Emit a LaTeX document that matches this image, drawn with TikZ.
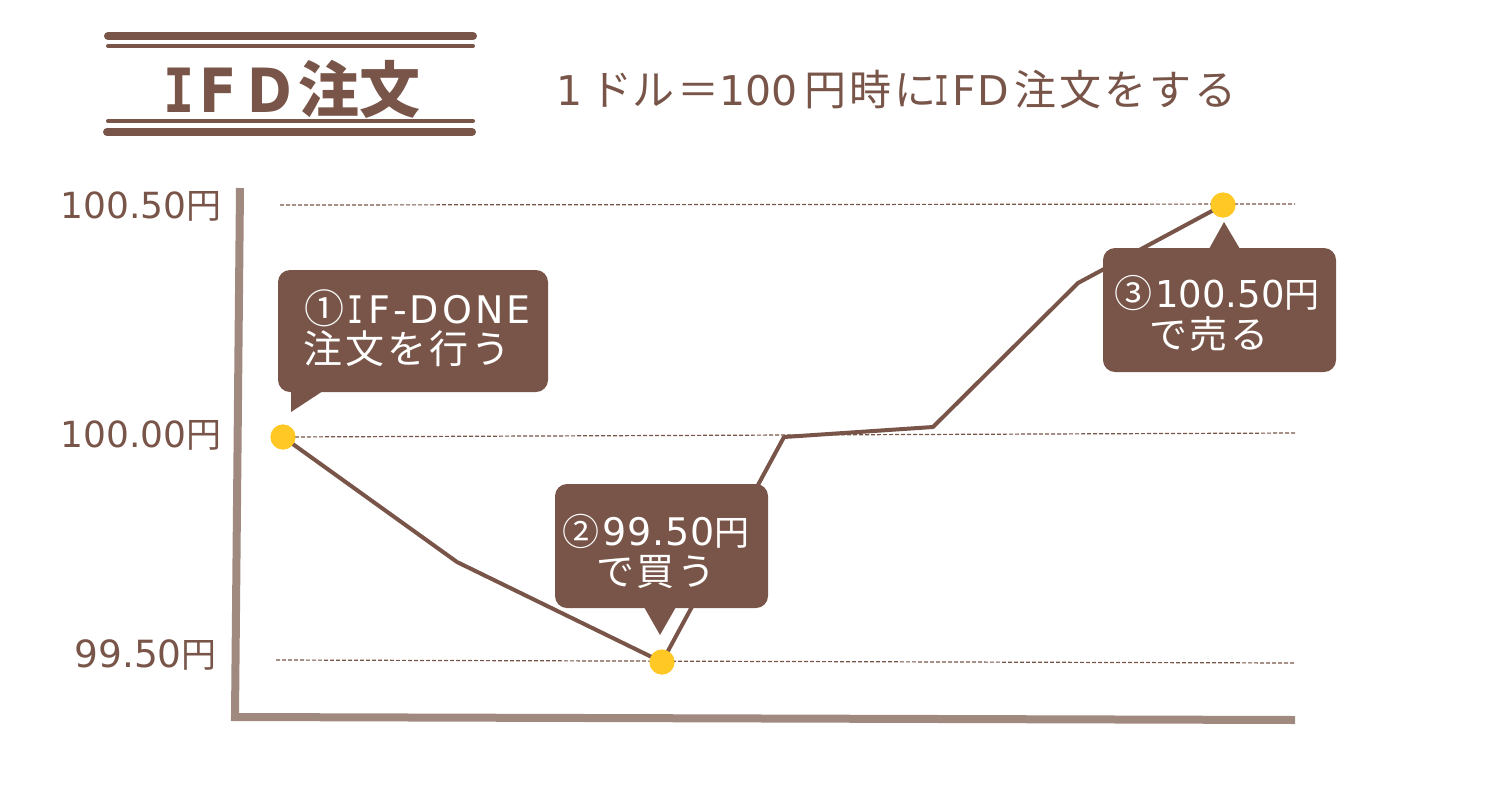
\documentclass[tikz,border=0pt]{standalone}
\usepackage{graphicx}
\usepackage{fontspec}
\setmainfont{DejaVu Sans}
\newfontfamily\jp{Noto Sans CJK JP}
\newfontfamily\jpsp[LetterSpace=7]{Noto Sans CJK JP}
\newfontfamily\jpwide[LetterSpace=6]{Noto Sans CJK JP}
\newfontfamily\jpwider[LetterSpace=8]{Noto Sans CJK JP}
\newfontfamily\lat{DejaVu Sans}
\newfontfamily\latsp[LetterSpace=8]{DejaVu Sans}
\newfontfamily\latti[LetterSpace=2]{DejaVu Sans}
\newfontfamily\monofam{DejaVu Sans Mono}
\newcommand{\serifI}[1]{\scalebox{#1}[1]{\monofam I}}
\definecolor{brn}{HTML}{785548}
\definecolor{axiscol}{HTML}{A08A80}
\definecolor{dotcol}{HTML}{FFC824}
\tikzset{
  rule thick/.style={draw=brn,line width=8pt,line cap=round},
  rule thin/.style={draw=brn,line width=4pt,line cap=round},
  grid dash/.style={draw=brn,line width=1.2pt,dash pattern=on 4pt off 2pt},
  price/.style={draw=brn,line width=4pt,line join=round},
  axisline/.style={draw=axiscol,line width=8pt,line join=miter},
  dot/.style={circle,fill=dotcol,minimum size=25pt,inner sep=0pt},
  bubble/.style={fill=brn,rounded corners=12pt},
  tailfill/.style={fill=brn},
  ylab/.style={text=brn,font=\lat\fontsize{36}{36}\selectfont,inner sep=0pt},
  calltext/.style={text=white,inner sep=0pt,font=\lat\fontsize{38}{38}\selectfont},
}
\begin{document}
\begin{tikzpicture}[x=1pt,y=-1pt]
\useasboundingbox (0,0) rectangle (1500,785);
% title rules
\draw[rule thick] (108,36) -- (473,36);
\draw[rule thin] (108,46) -- (473,46);
\draw[rule thin] (108,121) -- (473,121);
\draw[rule thick] (107,132) -- (472,132);
\node[text=brn,inner sep=0pt,anchor=west] (title) at (163,89)
  {\fontsize{61}{61}\selectfont\monofam\bfseries\scalebox{0.85}[1]{I}\hspace{5pt}\lat\bfseries\scalebox{0.9}[1]{F}\hspace{11pt}\scalebox{0.88}[1]{D}\hspace{6pt}\jp\bfseries 注文};
\node[text=brn,inner sep=0pt,anchor=west] (sub) at (556,90)
  {\lat\fontsize{41}{41}\selectfont 1\hspace{8pt}\jp\fontsize{42}{42}\selectfont ドル\hspace{3pt}＝\lat\fontsize{41}{41}\selectfont 100\hspace{7pt}\jpsp\fontsize{42}{42}\selectfont 円時に\lat\fontsize{41}{41}\selectfont\hspace{-1.5pt}\serifI{0.6}\hspace{3pt}F\hspace{1.5pt}D\hspace{5pt}\jpsp\fontsize{42}{42}\selectfont 注文をする};
% axis
\coordinate (axtop) at (240,188);
\coordinate (axo) at (235,717);
\coordinate (axr) at (1295,720);
\draw[axisline] (axtop) -- (axo) -- (axr);
% y labels
\node[ylab,anchor=east] (l1) at (222,206) {100.50\jp\fontsize{35}{35}\selectfont 円};
\node[ylab,anchor=east] (l2) at (222,435) {100.00\jp\fontsize{35}{35}\selectfont 円};
\node[ylab,anchor=east,font=\lat\fontsize{37.5}{37.5}\selectfont] (l3) at (217,655) {99.50\jp\fontsize{35}{35}\selectfont 円};
% points
\node[dot] (p1) at (283,437) {};
\node[dot] (p2) at (662,662) {};
\node[dot] (p3) at (1223,205) {};
\coordinate (g1a) at (280,205);  \coordinate (g1b) at (1295,204);
\coordinate (g2b) at (1295,433);
\coordinate (g3a) at (276,660);  \coordinate (g3b) at (1294,663);
\draw[grid dash] (g1a) -- (g1b);
\draw[grid dash] (p1.center) -- (g2b);
\draw[grid dash] (g3a) -- (g3b);
% price line
\coordinate (a) at (457,562);
\coordinate (b) at (784,437);
\coordinate (c) at (933,427);
\coordinate (d) at (1078,283);
\draw[price] (p1.center) -- (a) -- (p2.center) -- (b) -- (c) -- (d) -- (p3.center);
% redraw dots above lines
\node[dot] at (p1.center) {};
\node[dot] at (p2.center) {};
\node[dot] at (p3.center) {};
% callouts
\fill[bubble] (278,270) rectangle (548,392);
\fill[tailfill] (291,391) -- (291,412) -- (323,391) -- cycle;
\node[calltext,anchor=west] (t1a) at (304,308) {\jp\fontsize{40}{40}\selectfont ①\latsp\fontsize{38}{38}\selectfont\hspace{3pt}\serifI{0.7}\hspace{5pt}F-DONE};
\node[calltext,anchor=west] (t1b) at (303,349) {\jpwider\fontsize{39}{39}\selectfont 注文を行う};
\fill[bubble] (555,484) rectangle (768,608);
\fill[tailfill] (644,607) -- (660,635) -- (676,607) -- cycle;
\node[calltext,anchor=center] (t2a) at (656,531) {\jp\fontsize{37}{37}\selectfont ②\hspace{3pt}\latti\fontsize{38}{38}\selectfont 99.50\jp\fontsize{35}{35}\selectfont 円};
\node[calltext,anchor=center] (t2b) at (656,572) {\jpwide\fontsize{38}{38}\selectfont で買う};
\fill[bubble] (1103,248) rectangle (1336,372);
\fill[tailfill] (1209,249) -- (1224,222) -- (1240,249) -- cycle;
\node[calltext,anchor=center] (t3a) at (1217,293) {\jp\fontsize{38}{38}\selectfont ③\hspace{3pt}\lat\fontsize{37}{37}\selectfont 100.50\jp\fontsize{35}{35}\selectfont 円};
\node[calltext,anchor=center] (t3b) at (1209,334) {\jpwide\fontsize{38}{38}\selectfont で売る};
\end{tikzpicture}
\end{document}
